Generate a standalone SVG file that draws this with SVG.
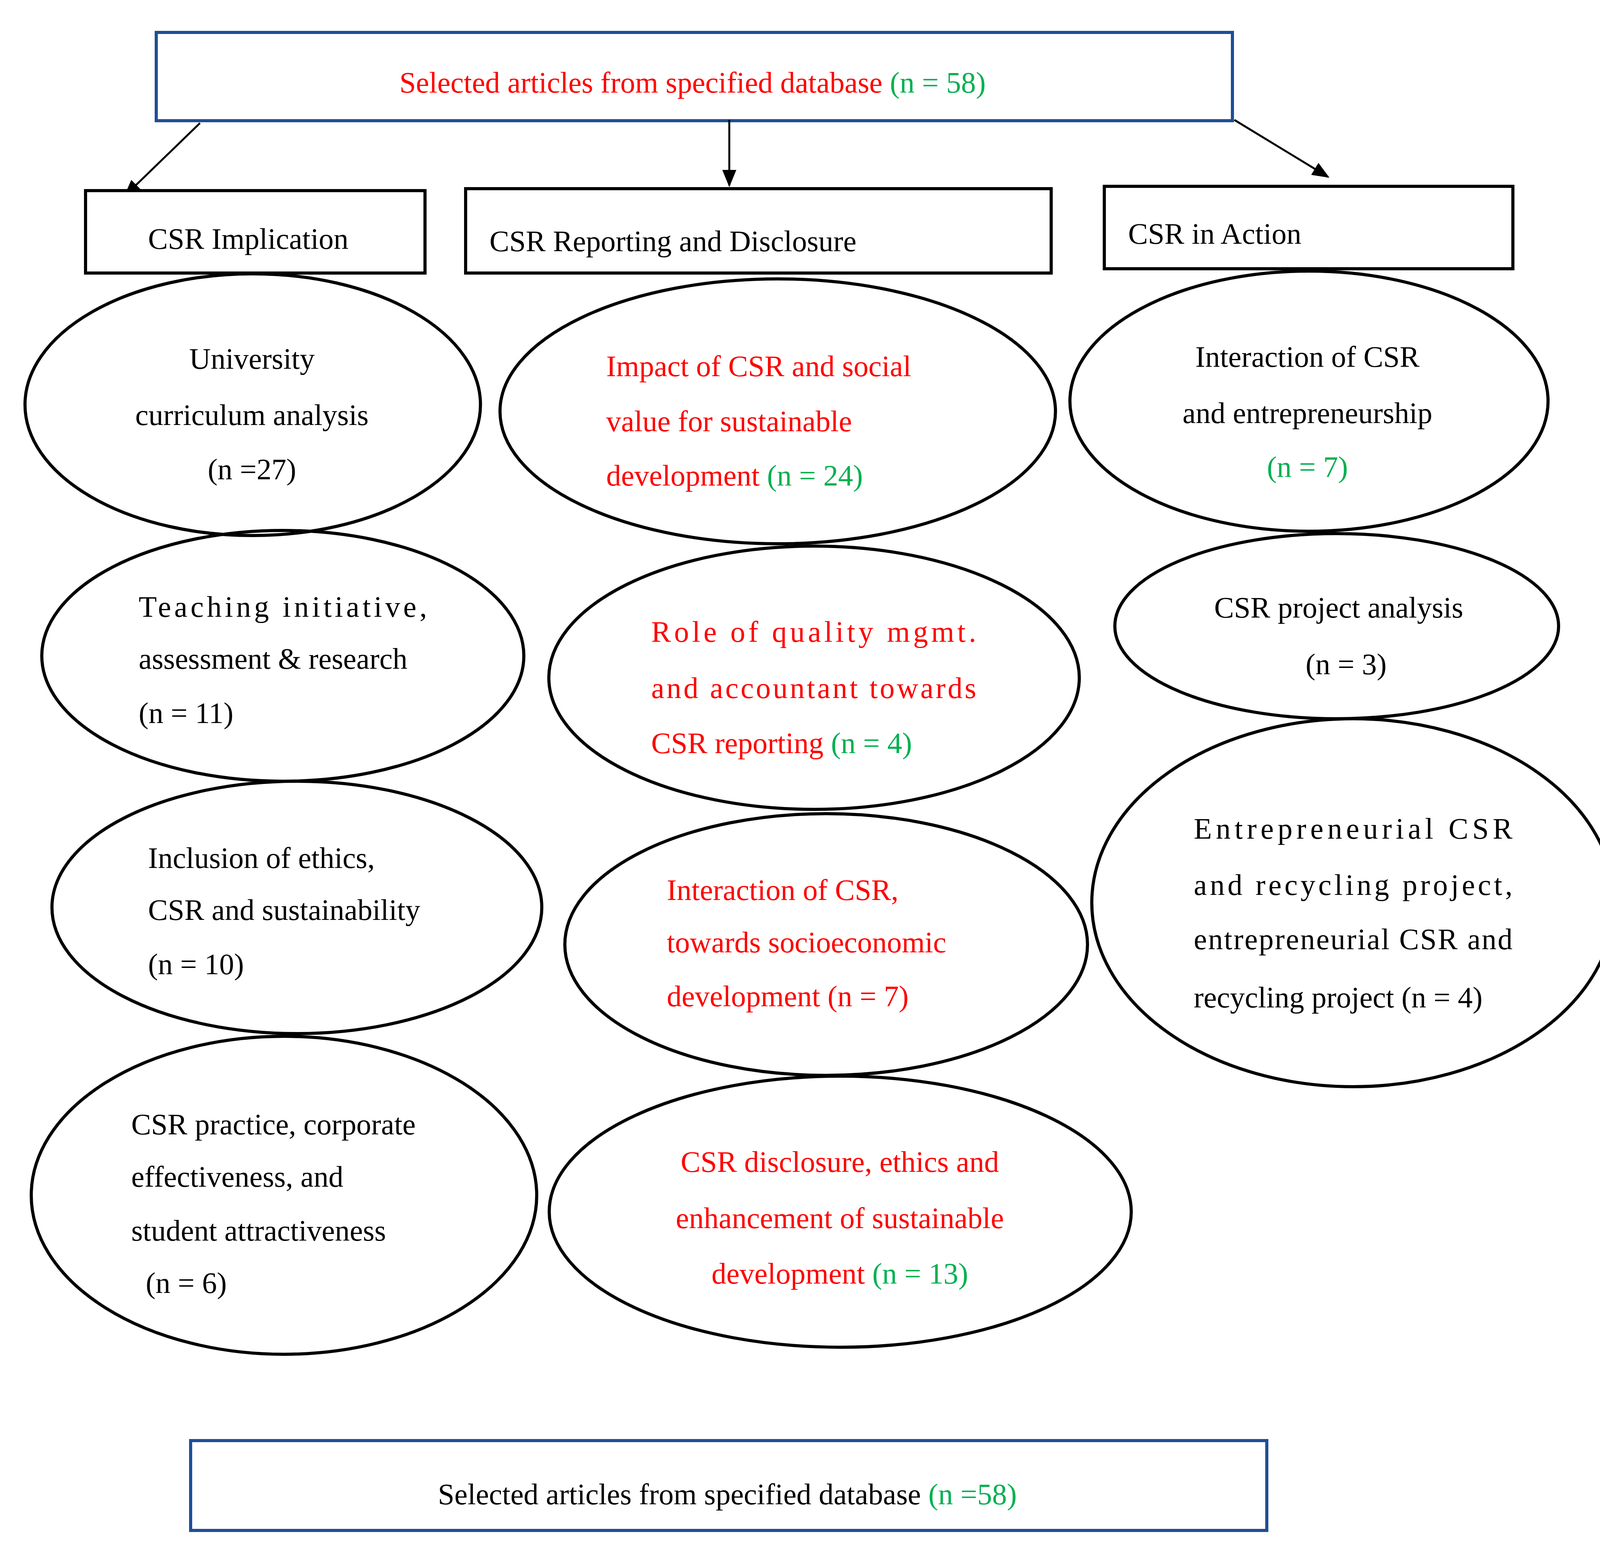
<svg xmlns="http://www.w3.org/2000/svg" width="4161" height="3986" viewBox="0 0 4161 3986">
<style>
text{font-family:"Liberation Serif","Times New Roman",serif;font-size:76px;fill:#000}
.r{fill:#ff0000}.g{fill:#00b050}
.bb{fill:#fff;stroke:#1f4e96;stroke-width:8}
.kb{fill:#fff;stroke:#000;stroke-width:8}
ellipse{fill:none;stroke:#000;stroke-width:8}
.c{text-anchor:middle}
.cn line{stroke:#000;stroke-width:5}
</style>
<defs><marker id="a" markerWidth="44" markerHeight="36" refX="40" refY="18" orient="auto" markerUnits="userSpaceOnUse" viewBox="0 0 44 36"><path d="M0,0L44,18L0,36z" fill="#000"/></marker></defs>
<rect width="4161" height="3986" fill="#fff"/>
<g id="top"><rect class="bb" x="400" y="83" width="2755" height="226"/><text class="c" x="1773" y="237"><tspan class="r">Selected articles from specified database </tspan><tspan class="g">(n = 58)</tspan></text></g>
<g class="cn" id="connectors">
<line x1="512" y1="315" x2="320" y2="501" marker-end="url(#a)"/>
<line x1="1867" y1="307" x2="1867" y2="475" marker-end="url(#a)"/>
<line x1="3160" y1="307" x2="3400" y2="453" marker-end="url(#a)"/>
</g>
<g id="h1"><rect class="kb" x="219" y="488" width="869" height="211"/><text x="379" y="637">CSR Implication</text></g>
<g id="h2"><rect class="kb" x="1192" y="483" width="1499" height="216"/><text x="1253" y="643">CSR Reporting and Disclosure</text></g>
<g id="h3"><rect class="kb" x="2827" y="477" width="1046" height="211"/><text x="2888" y="624">CSR in Action</text></g>
<g id="e1"><ellipse cx="647" cy="1036" rx="583" ry="335"/><text class="c" x="645" y="944">University</text><text class="c" x="645" y="1088">curriculum analysis</text><text class="c" x="645" y="1227">(n =27)</text></g>
<g id="e2"><ellipse cx="724" cy="1679" rx="617" ry="321"/><text x="355" y="1579" textLength="738" lengthAdjust="spacing">Teaching initiative,</text><text x="355" y="1712">assessment &amp; research</text><text x="355" y="1851">(n = 11)</text></g>
<g id="e3"><ellipse cx="760" cy="2323" rx="627" ry="323"/><text x="379" y="2222">Inclusion of ethics,</text><text x="379" y="2355">CSR and sustainability</text><text x="379" y="2494">(n = 10)</text></g>
<g id="e4"><ellipse cx="727" cy="3060" rx="647" ry="407"/><text x="336" y="2904">CSR practice, corporate</text><text x="336" y="3038">effectiveness, and</text><text x="336" y="3176">student attractiveness</text><text x="373" y="3310">(n = 6)</text></g>
<g id="e5"><ellipse cx="1991" cy="1053" rx="711" ry="339"/><text class="r" x="1552" y="963">Impact of CSR and social</text><text class="r" x="1552" y="1104">value for sustainable</text><text x="1552" y="1243"><tspan class="r">development </tspan><tspan class="g">(n = 24)</tspan></text></g>
<g id="e6"><ellipse cx="2084" cy="1735" rx="679" ry="337"/><text class="r" x="1667" y="1643" textLength="832" lengthAdjust="spacing">Role of quality mgmt.</text><text class="r" x="1667" y="1787" textLength="832" lengthAdjust="spacing">and accountant towards</text><text x="1667" y="1928"><tspan class="r">CSR reporting </tspan><tspan class="g">(n = 4)</tspan></text></g>
<g id="e7"><ellipse cx="2115" cy="2418" rx="669" ry="335"/><text class="r" x="1707" y="2304">Interaction of CSR,</text><text class="r" x="1707" y="2438">towards socioeconomic</text><text class="r" x="1707" y="2576">development (n = 7)</text></g>
<g id="e8"><ellipse cx="2151" cy="3102" rx="745" ry="347"/><text class="c r" x="2150" y="3000">CSR disclosure, ethics and</text><text class="c r" x="2150" y="3144">enhancement of sustainable</text><text class="c" x="2150" y="3286"><tspan class="r">development </tspan><tspan class="g">(n = 13)</tspan></text></g>
<g id="e9"><ellipse cx="3351" cy="1027" rx="612" ry="333"/><text class="c" x="3347" y="939">Interaction of CSR</text><text class="c" x="3347" y="1083">and entrepreneurship</text><text class="c g" x="3347" y="1221">(n = 7)</text></g>
<g id="e10"><ellipse cx="3422" cy="1603" rx="568" ry="237"/><text class="c" x="3427" y="1581">CSR project analysis</text><text class="c" x="3446" y="1726">(n = 3)</text></g>
<g id="e11"><ellipse cx="3464" cy="2311" rx="669" ry="471"/><text x="3056" y="2147" textLength="816" lengthAdjust="spacing">Entrepreneurial CSR</text><text x="3056" y="2291" textLength="816" lengthAdjust="spacing">and recycling project,</text><text x="3056" y="2430" textLength="816" lengthAdjust="spacing">entrepreneurial CSR and</text><text x="3056" y="2579">recycling project (n = 4)</text></g>
<g id="bottom"><rect class="bb" x="488" y="3688" width="2755" height="230"/><text class="c" x="1862" y="3851">Selected articles from specified database <tspan class="g">(n =58)</tspan></text></g>
</svg>
